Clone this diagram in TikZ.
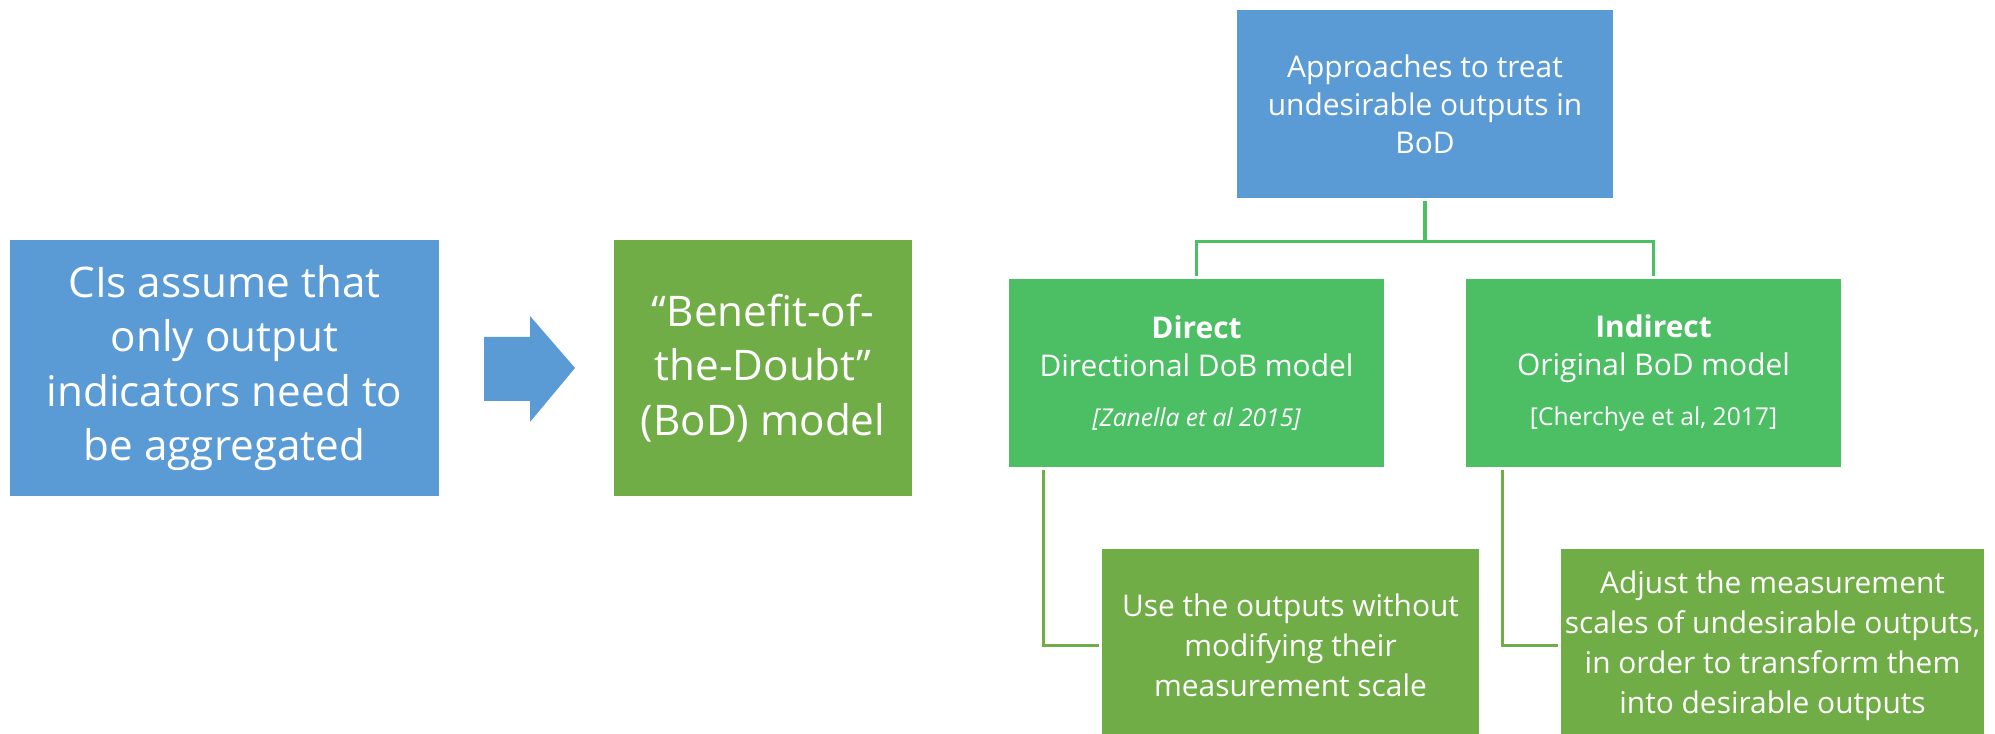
\documentclass[tikz,border=0pt]{standalone}
\usepackage{fontspec}
\setmainfont{Open Sans}
\usepackage{xcolor}
\usetikzlibrary{positioning,calc}

\definecolor{bodblue}{HTML}{5B9BD5}
\definecolor{bodgreen}{HTML}{70AD47}
\definecolor{mixgreen}{HTML}{4CBF65}

\begin{document}
\begin{tikzpicture}[
  x=0.01cm, y=-0.01cm,
  bluebox/.style={
    fill=bodblue, text=white, align=center, inner sep=0pt
  },
  greenbox/.style={
    fill=bodgreen, text=white, align=center, inner sep=0pt
  },
  approach/.style={
    fill=mixgreen, text=white, align=center, inner sep=0pt,
    minimum width=3.75cm, minimum height=1.88cm
  },
  bigtext/.style={font=\fontsize{12}{15.5}\selectfont},
  smalltext/.style={font=\fontsize{8.5}{10.8}\selectfont},
  tree/.style={mixgreen, line width=0.9pt},
  elbow/.style={bodgreen, line width=0.9pt}
]
\useasboundingbox (0,0) rectangle (1995,734);

% left part
\node[bluebox, bigtext, minimum width=4.29cm, minimum height=2.56cm] (cis) at (224.5,368)
  {CIs assume that\\only output\\indicators need to\\be aggregated};
\node[greenbox, bigtext, minimum width=2.98cm, minimum height=2.56cm] (bod) at (763,368)
  {“Benefit-of-\\the-Doubt”\\(BoD) model};
\fill[bodblue] (484,337) -- (530,337) -- (530,316) -- (575,368)
  -- (530,422) -- (530,401) -- (484,401) -- cycle;

% tree of approaches
\node[bluebox, smalltext, minimum width=3.76cm, minimum height=1.88cm] (treat) at (1425,104)
  {Approaches to treat\\undesirable outputs in\\BoD};
\node[approach, smalltext] (direct) at (1196.5,373)
  {\textbf{Direct}\\Directional DoB model\\[3.5pt]{\fontsize{7}{9}\selectfont\itshape [Zanella et al 2015]}};
\node[approach, smalltext] (indirect) at (1653.5,373)
  {\textbf{Indirect}\\Original BoD model\\[3.5pt]{\fontsize{7}{9}\selectfont [Cherchye et al, 2017]}};

\node[greenbox, smalltext, font=\fontsize{8.5}{11.4}\selectfont,
  minimum width=3.77cm, minimum height=1.93cm] (keep) at (1290.5,645.5)
  {Use the outputs without\\modifying their\\measurement scale};
\node[greenbox, smalltext, font=\fontsize{8.5}{11.4}\selectfont,
  minimum width=4.23cm, minimum height=1.93cm] (adjust) at (1772.5,645.5)
  {Adjust the measurement\\scales of undesirable outputs,\\in order to transform them\\into desirable outputs};

\draw[tree] ([yshift=-0.02cm]treat.south) -- ++(0,41) coordinate (split)
  -| ([yshift=0.02cm]direct.north);
\draw[tree] (split) -| ([yshift=0.02cm]indirect.north);

\draw[elbow] ([xshift=0.35cm,yshift=-0.02cm]direct.south west) |- ([xshift=-0.02cm]keep.west);
\draw[elbow] ([xshift=0.37cm,yshift=-0.02cm]indirect.south west) |- ([xshift=-0.02cm]adjust.west);
\end{tikzpicture}
\end{document}
